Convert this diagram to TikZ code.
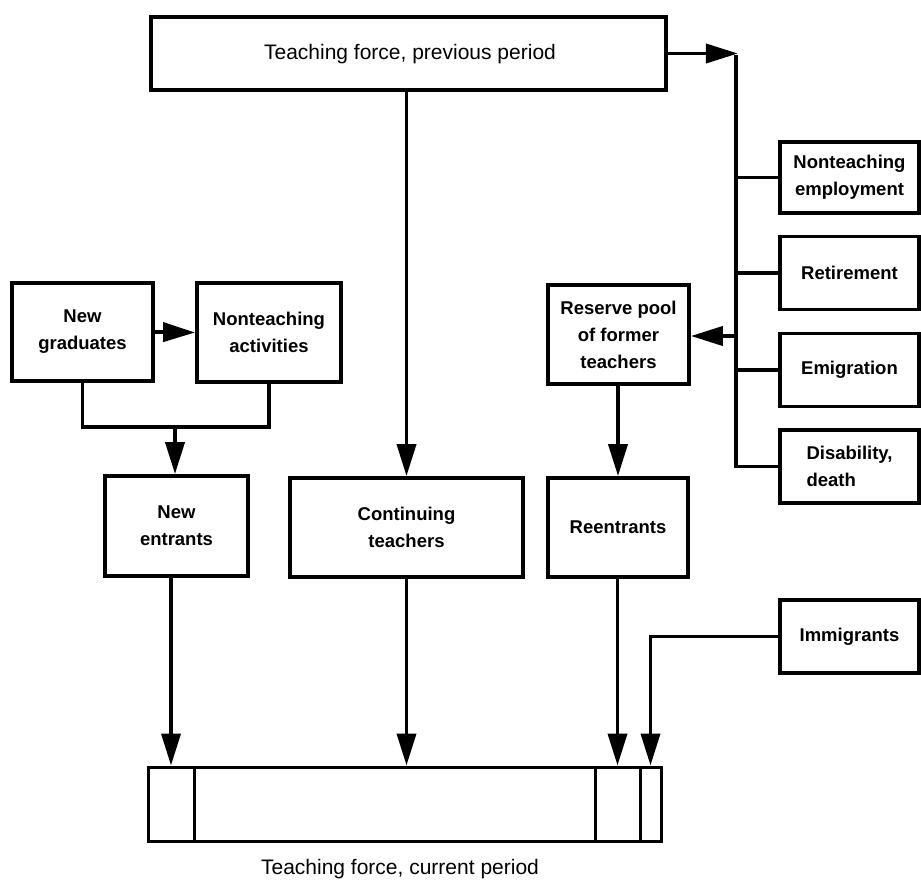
\documentclass[tikz,border=0pt]{standalone}
\usepackage{fontspec}
\setmainfont{Liberation Sans}
\usetikzlibrary{arrows.meta}
\begin{document}
\begin{tikzpicture}[x=1pt,y=-1pt,
  box/.style={draw, line width=3.8pt, inner sep=2pt, align=center,
    font=\fontsize{18.5}{27}\selectfont\bfseries},
  lbl/.style={font=\fontsize{21}{24}\selectfont},
  ln/.style={line width=3.8pt},
  arr/.style={line width=3.8pt, -{Triangle[length=32pt,width=19pt]}},
  seg/.style={draw, line width=3pt, inner sep=0pt, minimum height=74pt}]
\useasboundingbox (0,0) rectangle (921,881);
% top box
\node[box, minimum width=515pt, minimum height=73pt] (top) at (408.5,53.5) {};
\node[lbl] (toplbl) at (410,54) {Teaching force, previous period};
% right column
\node[box, minimum width=139pt, minimum height=71pt] (ntemp) at (849.5,177.5) {Nonteaching\\employment};
\node[box, minimum width=139pt, minimum height=73pt] (ret) at (849.5,273) {Retirement};
\node[box, minimum width=139pt, minimum height=73pt] (emi) at (849.5,370) {Emigration};
\node[box, minimum width=139pt, minimum height=73pt, align=left] (dis) at (849.5,466.5) {Disability,\\death};
\node[box, minimum width=139pt, minimum height=73pt] (immig) at (849.5,636.5) {Immigrants};
% middle
\node[box, minimum width=141pt, minimum height=99pt] (pool) at (618.5,334.5) {Reserve pool\\of former\\teachers};
\node[box, minimum width=141pt, minimum height=98pt] (newgrad) at (82.5,332) {New\\graduates};
\node[box, minimum width=144pt, minimum height=99pt] (ntact) at (269,332.5) {Nonteaching\\activities};
\node[box, minimum width=143pt, minimum height=100pt] (newent) at (176.5,526) {New\\entrants};
\node[box, minimum width=233pt, minimum height=99pt] (cont) at (406.5,527.5) {Continuing\\teachers};
\node[box, minimum width=140pt, minimum height=99pt] (reent) at (618,527.5) {Reentrants};
% bottom bar
\node[seg, minimum width=46pt] (b1) at (171,804) {};
\node[seg, minimum width=401pt] (b2) at (394.5,804) {};
\node[seg, minimum width=45pt] (b3) at (617.5,804) {};
\node[seg, minimum width=21pt] (b4) at (650.5,804) {};
\node[lbl] (botlbl) at (400,869) {Teaching force, current period};
% coordinates
\coordinate (vt) at (736,53.5);
\coordinate (vb) at (736,466.5);
\coordinate (jl) at (82.5,427);
\coordinate (jr) at (269,427);
\coordinate (jm) at (175,427);
\coordinate (ic) at (650.5,636.5);
% connectors
\draw[ln] ([yshift=-1.9pt]vt) -- ([yshift=1.9pt]vb);
\draw[arr] (top.east |- vt) -- ([xshift=1.9pt]vt);
\draw[ln] (vt |- ntemp) -- (ntemp.west);
\draw[ln] (vt |- ret) -- (ret.west);
\draw[ln] (vt |- emi) -- (emi.west);
\draw[ln] ([xshift=-1.9pt]vb) -- (dis.west |- vb);
\draw[arr] (vt |- 0,336) -- (pool.east |- 0,336);
\draw[arr] (newgrad.east) -- (ntact.west);
\draw[ln, line join=miter] (newgrad.south) -- (jl) -- (jr) -- (ntact.south);
\draw[arr] (jm) -- (jm |- newent.north);
\draw[arr] (top.south -| cont) -- (cont.north);
\draw[arr] (pool.south -| reent) -- (reent.north);
\draw[arr] (newent.south -| b1) -- (b1.north);
\draw[arr] (cont.south) -- (cont.south |- b2.north);
\draw[arr] (reent.south -| b3) -- (b3.north);
\draw[ln, line join=miter] (immig.west) -- (ic) -- ([yshift=1.9pt]ic);
\draw[arr] (ic) -- (b4.north);
\end{tikzpicture}
\end{document}
